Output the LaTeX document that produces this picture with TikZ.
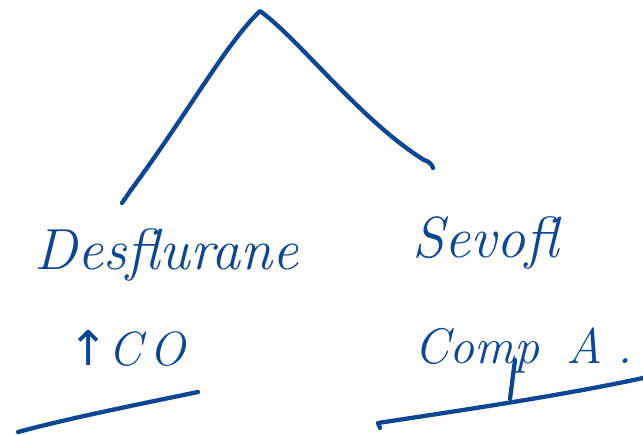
\documentclass[tikz,border=0pt]{standalone}
\usepackage{fontspec}
\newfontfamily\symfont{DejaVu Sans}
\definecolor{ink}{RGB}{14,70,145}
\begin{document}
\begin{tikzpicture}[x=1pt,y=-1pt,
  pen/.style={draw=ink,line width=4.3pt,line cap=round,line join=round},
  hand/.style={text=ink,font=\itshape\fontsize{58}{62}\selectfont,inner sep=0pt,anchor=base west}]
\useasboundingbox (0,0) rectangle (643,435);
% apex and branch ends
\coordinate (apex) at (260,11);
\coordinate (lend) at (131,190);
\coordinate (rend) at (424,160);
\draw[pen] (lend) .. controls (190,110) and (225,45) .. (apex)
  .. controls (300,40) and (360,120) .. (rend);
\draw[pen] (lend) -- (122,203);
\draw[pen] (rend) .. controls (428,161) and (432,164) .. (433,168);
% labels
\node[hand] (desf) at (34,270) {Desflurane};
\node[hand] (sevo) at (412,258) {Sevofl};
\node[hand,font=\itshape\fontsize{48}{52}\selectfont] (co) at (68,366) {{\symfont\upshape ↑}C\,O};
\node[hand,font=\itshape\fontsize{50}{54}\selectfont] (compa) at (414,364) {Comp\;\;A\hspace{14pt}.};
% underlines
\coordinate (l1) at (18,432);
\coordinate (l2) at (198,392);
\coordinate (r1) at (378,423);
\coordinate (r2) at (643,378);
\coordinate (stemb) at (510,399);
\coordinate (stemt) at (515,360);
\draw[pen] (l1) .. controls (70,418) and (140,404) .. (l2);
\draw[pen] (380,428) -- (r1) .. controls (450,412) and (560,396) .. (r2);
\draw[pen] (stemb) -- (stemt);
\end{tikzpicture}
\end{document}
